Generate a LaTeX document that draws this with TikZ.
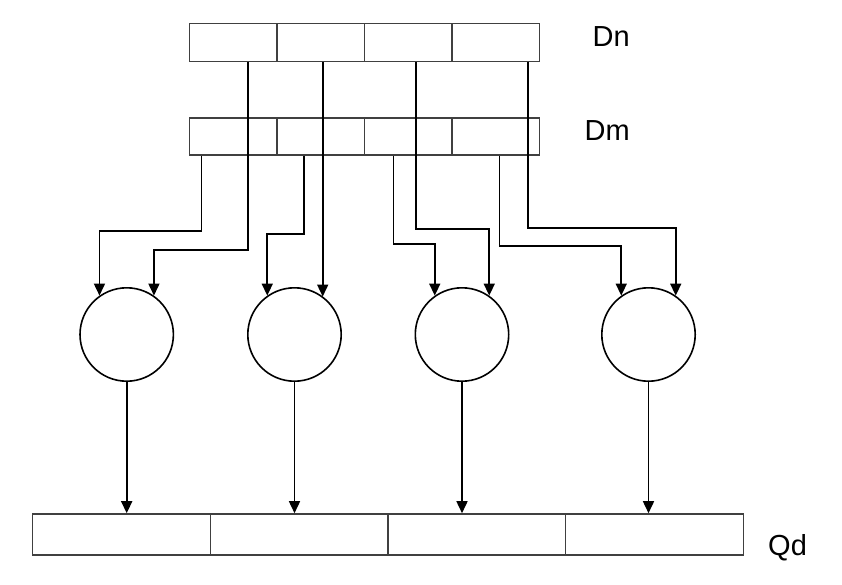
\documentclass[tikz,border=0pt]{standalone}
\usepackage{fontspec}
\setmainfont{Liberation Sans}
\usetikzlibrary{arrows.meta,calc}
\begin{document}
\begin{tikzpicture}[x=1pt,y=-1pt,
  regcell/.style={draw=black!75,line width=1.6pt,inner sep=0pt,minimum width=87.45pt,minimum height=#1},
  qcell/.style={draw=black!75,line width=1.6pt,inner sep=0pt,minimum width=177.65pt,minimum height=41pt},
  opnode/.style={draw=black,line width=1.6pt,circle,inner sep=0pt,minimum size=93.4pt},
  wire/.style={draw=black,line width=1.6pt},
  arr/.style={wire,-{Triangle[length=12pt,width=11pt]}},
  lbl/.style={inner sep=0pt,font=\fontsize{29}{31}\selectfont}]
\useasboundingbox (0,0) rectangle (842,584);
% Dn register
\node[regcell=38pt] (n1) at (233.2,42.5) {};
\node[regcell=38pt] (n2) at (320.7,42.5) {};
\node[regcell=38pt] (n3) at (408.1,42.5) {};
\node[regcell=38pt] (n4) at (495.6,42.5) {};
% Dm register
\node[regcell=37.3pt] (m1) at (233.2,136.4) {};
\node[regcell=37.3pt] (m2) at (320.7,136.4) {};
\node[regcell=37.3pt] (m3) at (408.1,136.4) {};
\node[regcell=37.3pt] (m4) at (495.6,136.4) {};
% Qd register
\node[qcell] (q1) at (121.5,534.5) {};
\node[qcell] (q2) at (299.2,534.5) {};
\node[qcell] (q3) at (476.8,534.5) {};
\node[qcell] (q4) at (654.5,534.5) {};
% labels
\node[lbl,anchor=base east] (ldn) at (630,46.7) {Dn};
\node[lbl,anchor=base east] (ldm) at (630,140) {Dm};
\node[lbl,anchor=base west] (lqd) at (768,555) {Qd};
% operation circles
\node[opnode] (c1) at (126.7,334.5) {};
\node[opnode] (c2) at (294.5,334.5) {};
\node[opnode] (c3) at (462,334.5) {};
\node[opnode] (c4) at (648.5,334.5) {};
% taps
\coordinate (tn1) at (n1.south -| 248,0);
\coordinate (tn2) at (n2.south -| 322.7,0);
\coordinate (tn3) at (n3.south -| 416,0);
\coordinate (tn4) at (n4.south -| 527.7,0);
\coordinate (tm1) at (m1.south -| 201.3,0);
\coordinate (tm2) at (m2.south -| 304,0);
\coordinate (tm3) at (m3.south -| 393.3,0);
\coordinate (tm4) at (m4.south -| 499.3,0);
% wires into circles
\draw[arr] (tm1) -- (tm1 |- 0,231) -| (c1.125);
\draw[arr] (tn1) -- (tn1 |- 0,250) -| (c1.55);
\draw[arr] (tm2) -- (tm2 |- 0,234) -| (c2.125);
\draw[arr] (tn2) -- (tn2 |- c2.53);
\draw[arr] (tm3) -- (tm3 |- 0,244) -| (c3.125);
\draw[arr] (tn3) -- (tn3 |- 0,228.7) -| (c3.55);
\draw[arr] (tm4) -- (tm4 |- 0,246) -| (c4.125);
\draw[arr] (tn4) -- (tn4 |- 0,228) -| (c4.55);
% outputs
\draw[arr] (c1.south) -- (c1.south |- q1.north);
\draw[arr] (c2.south) -- (c2.south |- q2.north);
\draw[arr] (c3.south) -- (c3.south |- q3.north);
\draw[arr] (c4.south) -- (c4.south |- q4.north);
\end{tikzpicture}
\end{document}
